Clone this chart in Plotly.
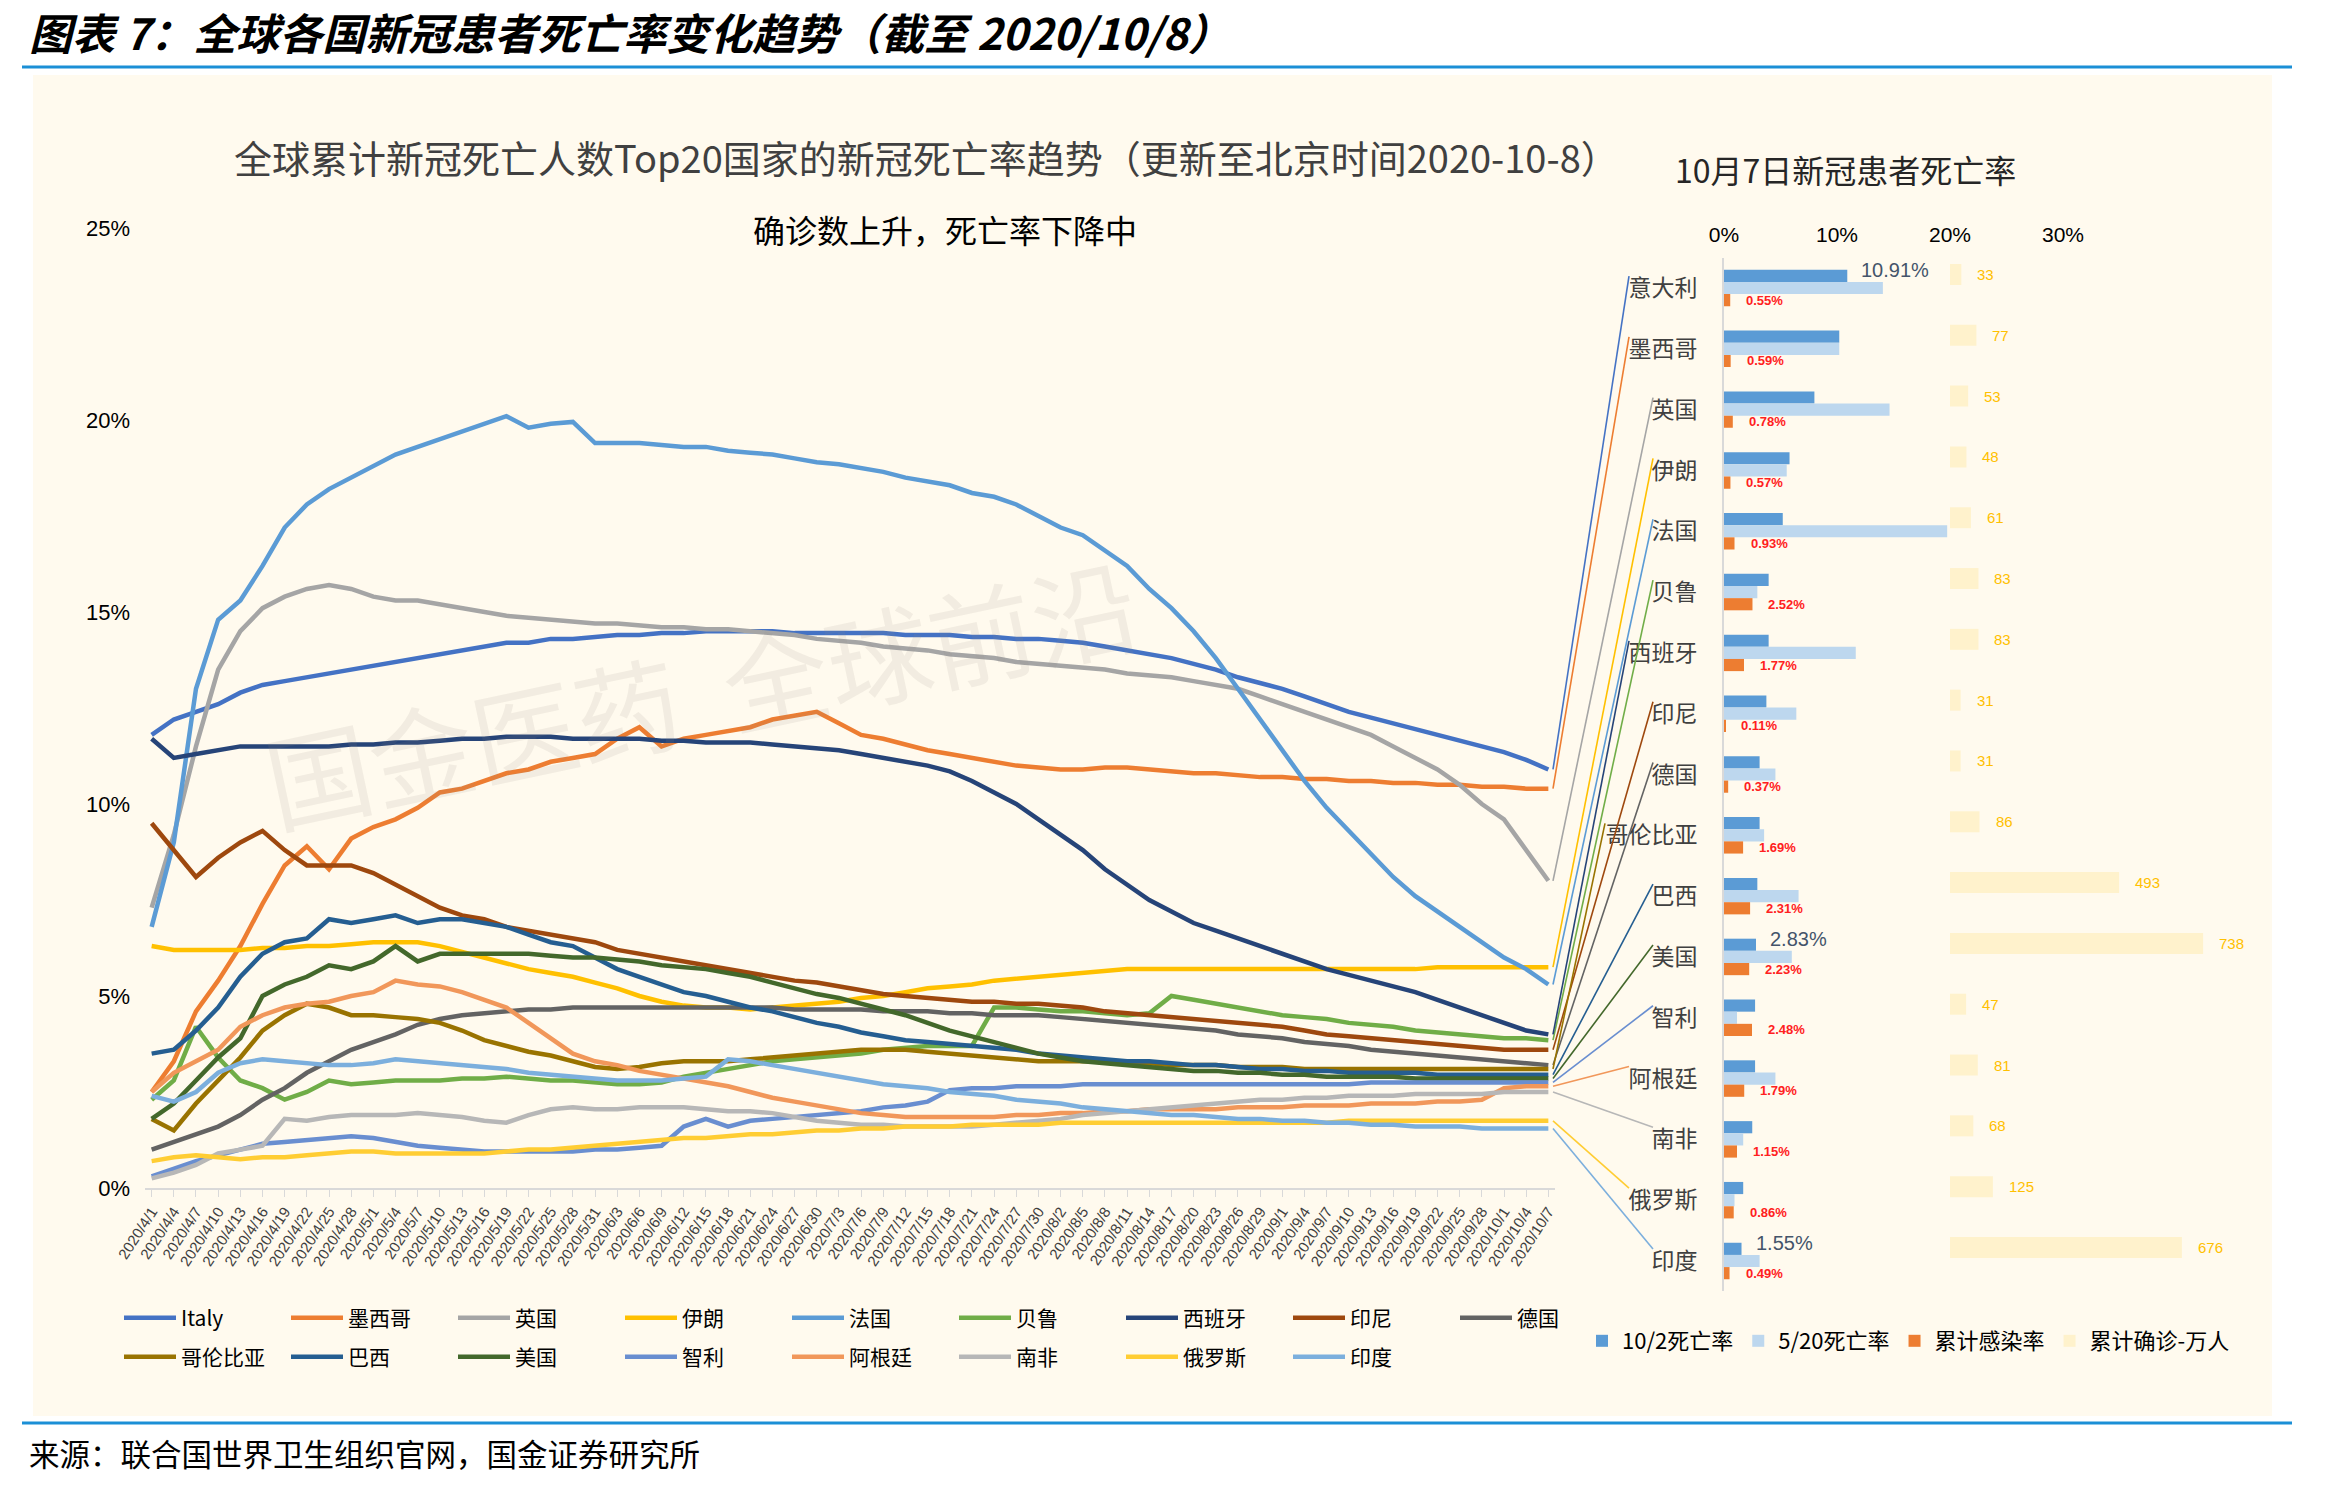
import plotly.graph_objects as go

W, H = 2349, 1485


def fx(px):
    return px / W


def fy(py):
    return 1 - py / H


# ---------------- data ----------------
dates = ["2020/4/1", "2020/4/4", "2020/4/7", "2020/4/10", "2020/4/13", "2020/4/16", "2020/4/19", "2020/4/22",
         "2020/4/25", "2020/4/28", "2020/5/1", "2020/5/4", "2020/5/7", "2020/5/10", "2020/5/13", "2020/5/16",
         "2020/5/19", "2020/5/22", "2020/5/25", "2020/5/28", "2020/5/31", "2020/6/3", "2020/6/6", "2020/6/9",
         "2020/6/12", "2020/6/15", "2020/6/18", "2020/6/21", "2020/6/24", "2020/6/27", "2020/6/30", "2020/7/3",
         "2020/7/6", "2020/7/9", "2020/7/12", "2020/7/15", "2020/7/18", "2020/7/21", "2020/7/24", "2020/7/27",
         "2020/7/30", "2020/8/2", "2020/8/5", "2020/8/8", "2020/8/11", "2020/8/14", "2020/8/17", "2020/8/20",
         "2020/8/23", "2020/8/26", "2020/8/29", "2020/9/1", "2020/9/4", "2020/9/7", "2020/9/10", "2020/9/13",
         "2020/9/16", "2020/9/19", "2020/9/22", "2020/9/25", "2020/9/28", "2020/10/1", "2020/10/4", "2020/10/7"]

italy = [11.8, 12.2, 12.4, 12.6, 12.9, 13.1, 13.2, 13.3, 13.4, 13.5,
         13.6, 13.7, 13.8, 13.9, 14.0, 14.1, 14.2, 14.2, 14.3, 14.3, 14.35,
         14.4, 14.4, 14.45, 14.45, 14.5, 14.5, 14.5, 14.5, 14.45, 14.45,
         14.45, 14.45, 14.45, 14.4, 14.4, 14.4, 14.35, 14.35, 14.3, 14.3,
         14.25, 14.2, 14.1, 14.0, 13.9, 13.8, 13.65, 13.5, 13.3, 13.15,
         13.0, 12.8, 12.6, 12.4, 12.25, 12.1, 11.95, 11.8, 11.65, 11.5,
         11.35, 11.15, 10.9]
mexico = [2.5, 3.3, 4.6, 5.4, 6.3, 7.4, 8.4, 8.9, 8.3, 9.1,
          9.4, 9.6, 9.9, 10.3, 10.4, 10.6, 10.8, 10.9, 11.1, 11.2, 11.3,
          11.7, 12.0, 11.5, 11.7, 11.8, 11.9, 12.0, 12.2, 12.3, 12.4,
          12.1, 11.8, 11.7, 11.55, 11.4, 11.3, 11.2, 11.1, 11.0, 10.95,
          10.9, 10.9, 10.95, 10.95, 10.9, 10.85, 10.8, 10.8, 10.75, 10.7,
          10.7, 10.65, 10.65, 10.6, 10.6, 10.55, 10.55, 10.5, 10.5, 10.45,
          10.45, 10.4, 10.4]
uk = [7.3, 9.2, 11.5, 13.5, 14.5, 15.1, 15.4, 15.6, 15.7, 15.6,
      15.4, 15.3, 15.3, 15.2, 15.1, 15.0, 14.9, 14.85, 14.8, 14.75, 14.7,
      14.7, 14.65, 14.6, 14.6, 14.55, 14.55, 14.5, 14.45, 14.4, 14.3,
      14.25, 14.2, 14.1, 14.05, 14.0, 13.9, 13.85, 13.8, 13.7, 13.65,
      13.6, 13.55, 13.5, 13.4, 13.35, 13.3, 13.2, 13.1, 13.0, 12.8,
      12.6, 12.4, 12.2, 12.0, 11.8, 11.5, 11.2, 10.9, 10.5, 10.0,
      9.6, 8.8, 8.0]
iran = [6.3, 6.2, 6.2, 6.2, 6.2, 6.25, 6.25, 6.3, 6.3, 6.35,
        6.4, 6.4, 6.4, 6.3, 6.15, 6.0, 5.85, 5.7, 5.6, 5.5, 5.35,
        5.2, 5.0, 4.85, 4.75, 4.7, 4.7, 4.65, 4.7, 4.75, 4.8,
        4.85, 4.95, 5.0, 5.1, 5.2, 5.25, 5.3, 5.4, 5.45, 5.5,
        5.55, 5.6, 5.65, 5.7, 5.7, 5.7, 5.7, 5.7, 5.7, 5.7,
        5.7, 5.7, 5.7, 5.7, 5.7, 5.7, 5.7, 5.75, 5.75, 5.75,
        5.75, 5.75, 5.75]
france = [6.8, 9.0, 13.0, 14.8, 15.3, 16.2, 17.2, 17.8, 18.2, 18.5,
          18.8, 19.1, 19.3, 19.5, 19.7, 19.9, 20.1, 19.8, 19.9, 19.95, 19.4,
          19.4, 19.4, 19.35, 19.3, 19.3, 19.2, 19.15, 19.1, 19.0, 18.9,
          18.85, 18.75, 18.65, 18.5, 18.4, 18.3, 18.1, 18.0, 17.8, 17.5,
          17.2, 17.0, 16.6, 16.2, 15.6, 15.1, 14.5, 13.8, 13.0, 12.2,
          11.4, 10.6, 9.9, 9.3, 8.7, 8.1, 7.6, 7.2, 6.8, 6.4,
          6.0, 5.7, 5.3]
peru = [2.3, 2.8, 4.2, 3.4, 2.8, 2.6, 2.3, 2.5, 2.8, 2.7,
        2.75, 2.8, 2.8, 2.8, 2.85, 2.85, 2.9, 2.85, 2.8, 2.8, 2.75,
        2.7, 2.7, 2.75, 2.9, 3.0, 3.1, 3.2, 3.3, 3.35, 3.4,
        3.45, 3.5, 3.6, 3.65, 3.7, 3.7, 3.7, 4.7, 4.7, 4.65,
        4.6, 4.6, 4.55, 4.5, 4.55, 5.0, 4.9, 4.8, 4.7, 4.6,
        4.5, 4.45, 4.4, 4.3, 4.25, 4.2, 4.1, 4.05, 4.0, 3.95,
        3.9, 3.9, 3.85]
spain = [11.7, 11.2, 11.3, 11.4, 11.5, 11.5, 11.5, 11.5, 11.5, 11.55,
         11.55, 11.6, 11.6, 11.65, 11.7, 11.7, 11.75, 11.75, 11.75, 11.7, 11.7,
         11.7, 11.7, 11.65, 11.65, 11.6, 11.6, 11.6, 11.55, 11.5, 11.45,
         11.4, 11.3, 11.2, 11.1, 11.0, 10.85, 10.6, 10.3, 10.0, 9.6,
         9.2, 8.8, 8.3, 7.9, 7.5, 7.2, 6.9, 6.7, 6.5, 6.3,
         6.1, 5.9, 5.7, 5.55, 5.4, 5.25, 5.1, 4.9, 4.7, 4.5,
         4.3, 4.1, 4.0]
indonesia = [9.5, 8.8, 8.1, 8.6, 9.0, 9.3, 8.8, 8.4, 8.4, 8.4,
             8.2, 7.9, 7.6, 7.3, 7.1, 7.0, 6.8, 6.7, 6.6, 6.5, 6.4,
             6.2, 6.1, 6.0, 5.9, 5.8, 5.7, 5.6, 5.5, 5.4, 5.35,
             5.25, 5.15, 5.05, 5.0, 4.95, 4.9, 4.85, 4.85, 4.8, 4.8,
             4.75, 4.7, 4.6, 4.55, 4.5, 4.45, 4.4, 4.35, 4.3, 4.25,
             4.2, 4.1, 4.0, 3.95, 3.9, 3.85, 3.8, 3.75, 3.7, 3.65,
             3.6, 3.6, 3.6]
germany = [1.0, 1.2, 1.4, 1.6, 1.9, 2.3, 2.6, 3.0, 3.3, 3.6,
           3.8, 4.0, 4.25, 4.4, 4.5, 4.55, 4.6, 4.65, 4.65, 4.7, 4.7,
           4.7, 4.7, 4.7, 4.7, 4.7, 4.7, 4.7, 4.7, 4.65, 4.65,
           4.65, 4.65, 4.6, 4.6, 4.6, 4.55, 4.55, 4.5, 4.5, 4.5,
           4.45, 4.4, 4.35, 4.3, 4.25, 4.2, 4.15, 4.1, 4.0, 3.95,
           3.9, 3.8, 3.75, 3.7, 3.6, 3.55, 3.5, 3.45, 3.4, 3.35,
           3.3, 3.25, 3.2]
colombia = [1.8, 1.5, 2.2, 2.8, 3.4, 4.1, 4.5, 4.8, 4.7, 4.5,
            4.5, 4.45, 4.4, 4.3, 4.1, 3.85, 3.7, 3.55, 3.45, 3.3, 3.15,
            3.1, 3.15, 3.25, 3.3, 3.3, 3.3, 3.35, 3.4, 3.45, 3.5,
            3.55, 3.6, 3.6, 3.6, 3.55, 3.5, 3.45, 3.4, 3.35, 3.3,
            3.3, 3.3, 3.3, 3.25, 3.25, 3.2, 3.2, 3.2, 3.15, 3.15,
            3.15, 3.1, 3.1, 3.1, 3.1, 3.1, 3.1, 3.1, 3.1, 3.1,
            3.1, 3.1, 3.1]
brazil = [3.5, 3.6, 4.1, 4.7, 5.5, 6.1, 6.4, 6.5, 7.0, 6.9,
          7.0, 7.1, 6.9, 7.0, 7.0, 6.9, 6.8, 6.6, 6.4, 6.3, 6.0,
          5.7, 5.5, 5.3, 5.1, 5.0, 4.85, 4.7, 4.6, 4.45, 4.3,
          4.2, 4.05, 3.95, 3.85, 3.8, 3.75, 3.7, 3.65, 3.6, 3.5,
          3.45, 3.4, 3.35, 3.3, 3.3, 3.25, 3.2, 3.2, 3.15, 3.1,
          3.1, 3.05, 3.05, 3.0, 3.0, 3.0, 3.0, 2.95, 2.95, 2.95,
          2.95, 2.95, 2.95]
usa = [1.8, 2.2, 2.8, 3.4, 3.9, 5.0, 5.3, 5.5, 5.8, 5.7,
       5.9, 6.3, 5.9, 6.1, 6.1, 6.1, 6.1, 6.1, 6.05, 6.0, 6.0,
       5.95, 5.9, 5.8, 5.75, 5.7, 5.6, 5.5, 5.35, 5.2, 5.05,
       4.95, 4.8, 4.65, 4.5, 4.3, 4.1, 3.95, 3.8, 3.65, 3.5,
       3.4, 3.3, 3.25, 3.2, 3.15, 3.1, 3.05, 3.05, 3.0, 3.0,
       2.95, 2.95, 2.9, 2.9, 2.9, 2.9, 2.85, 2.85, 2.85, 2.85,
       2.85, 2.85, 2.85]
chile = [0.3, 0.5, 0.7, 0.85, 1.0, 1.15, 1.2, 1.25, 1.3, 1.35,
         1.3, 1.2, 1.1, 1.05, 1.0, 0.95, 0.95, 0.95, 0.95, 0.95, 1.0,
         1.0, 1.05, 1.1, 1.6, 1.8, 1.6, 1.75, 1.8, 1.85, 1.9,
         1.95, 2.0, 2.1, 2.15, 2.25, 2.55, 2.6, 2.6, 2.65, 2.65,
         2.65, 2.7, 2.7, 2.7, 2.7, 2.7, 2.7, 2.7, 2.7, 2.7,
         2.7, 2.7, 2.7, 2.7, 2.75, 2.75, 2.75, 2.75, 2.75, 2.75,
         2.75, 2.75, 2.75]
argentina = [2.5, 3.0, 3.3, 3.6, 4.2, 4.5, 4.7, 4.8, 4.85, 5.0,
             5.1, 5.4, 5.3, 5.25, 5.1, 4.9, 4.7, 4.3, 3.9, 3.5, 3.3,
             3.2, 3.05, 2.95, 2.85, 2.75, 2.65, 2.5, 2.35, 2.25, 2.15,
             2.05, 1.95, 1.9, 1.85, 1.85, 1.85, 1.85, 1.85, 1.9, 1.9,
             1.95, 1.95, 2.0, 2.0, 2.05, 2.05, 2.05, 2.05, 2.1, 2.1,
             2.1, 2.15, 2.15, 2.15, 2.2, 2.2, 2.2, 2.25, 2.25, 2.3,
             2.6, 2.65, 2.65]
south_africa = [0.25, 0.4, 0.6, 0.9, 1.0, 1.1, 1.8, 1.75, 1.85, 1.9,
                1.9, 1.9, 1.95, 1.9, 1.85, 1.75, 1.7, 1.9, 2.05, 2.1, 2.05,
                2.05, 2.1, 2.1, 2.1, 2.05, 2.0, 2.0, 1.95, 1.85, 1.75,
                1.7, 1.65, 1.65, 1.6, 1.6, 1.6, 1.6, 1.65, 1.7, 1.75,
                1.8, 1.9, 1.95, 2.0, 2.05, 2.1, 2.15, 2.2, 2.25, 2.3,
                2.3, 2.35, 2.35, 2.4, 2.4, 2.4, 2.45, 2.45, 2.45, 2.45,
                2.5, 2.5, 2.5]
russia = [0.7, 0.8, 0.85, 0.8, 0.75, 0.8, 0.8, 0.85, 0.9, 0.95,
          0.95, 0.9, 0.9, 0.9, 0.9, 0.9, 0.95, 1.0, 1.0, 1.05, 1.1,
          1.15, 1.2, 1.25, 1.3, 1.3, 1.35, 1.4, 1.4, 1.45, 1.5,
          1.5, 1.55, 1.55, 1.6, 1.6, 1.6, 1.65, 1.65, 1.65, 1.65,
          1.7, 1.7, 1.7, 1.7, 1.7, 1.7, 1.7, 1.7, 1.7, 1.7,
          1.7, 1.7, 1.7, 1.75, 1.75, 1.75, 1.75, 1.75, 1.75, 1.75,
          1.75, 1.75, 1.75]
india = [2.4, 2.25, 2.5, 3.0, 3.25, 3.35, 3.3, 3.25, 3.2, 3.2,
         3.25, 3.35, 3.3, 3.25, 3.2, 3.15, 3.1, 3.0, 2.95, 2.9, 2.85,
         2.8, 2.8, 2.8, 2.85, 2.9, 3.35, 3.3, 3.2, 3.1, 3.0,
         2.9, 2.8, 2.7, 2.65, 2.6, 2.5, 2.45, 2.4, 2.3, 2.25,
         2.2, 2.1, 2.05, 2.0, 1.95, 1.9, 1.9, 1.85, 1.8, 1.8,
         1.75, 1.75, 1.7, 1.7, 1.65, 1.65, 1.6, 1.6, 1.6, 1.55,
         1.55, 1.55, 1.55]

series_names = ["Italy", "墨西哥", "英国", "伊朗", "法国", "贝鲁", "西班牙", "印尼", "德国",
                "哥伦比亚", "巴西", "美国", "智利", "阿根廷", "南非", "俄罗斯", "印度"]
series_values = [italy, mexico, uk, iran, france, peru, spain, indonesia, germany,
                 colombia, brazil, usa, chile, argentina, south_africa, russia, india]
series_colors = ["#4472C4", "#ED7D31", "#A5A5A5", "#FFC000", "#5B9BD5", "#70AD47", "#264478", "#9E480E",
                 "#636363", "#997300", "#255E91", "#43682B", "#698ED0", "#F1975A", "#B7B7B7", "#FFCD33",
                 "#7CAFDD"]

bar_countries = ["意大利", "墨西哥", "英国", "伊朗", "法国", "贝鲁", "西班牙", "印尼", "德国",
                 "哥伦比亚", "巴西", "美国", "智利", "阿根廷", "南非", "俄罗斯", "印度"]
rate_1002 = [10.91, 10.2, 8.0, 5.8, 5.2, 3.95, 3.95, 3.75, 3.15, 3.15, 2.95, 2.83, 2.75, 2.75, 2.5, 1.7, 1.55]
rate_1002_labels = ["10.91%", "", "", "", "", "", "", "", "", "", "", "2.83%", "", "", "", "", "1.55%"]
rate_0520 = [14.06, 10.2, 14.65, 5.55, 19.75, 2.95, 11.66, 6.4, 4.55, 3.55, 6.6, 6.0, 1.15, 4.55, 1.7, 0.93, 3.15]
infection_rate = [0.55, 0.59, 0.78, 0.57, 0.93, 2.52, 1.77, 0.11, 0.37, 1.69, 2.31, 2.23, 2.48, 1.79, 1.15, 0.86,
                  0.49]
cases_wan = [33, 77, 53, 48, 61, 83, 83, 31, 31, 86, 493, 738, 47, 81, 68, 125, 676]

rate_ticks = [0, 5, 10, 15, 20, 25]
rate_tick_text = ["0%", "5%", "10%", "15%", "20%", "25%"]
bar_ticks = [0, 10, 20, 30]
bar_tick_text = ["0%", "10%", "20%", "30%"]

# ---------------- geometry (pixels) ----------------
FONT = "Noto Sans CJK SC"
LX0, LX1 = 145, 1555          # left chart x-domain
LY_TOP, LY_BOT = 228, 1188    # left chart y-domain (25% .. 0%)
X_RANGE = [-0.3, 63.3]
Y_RANGE = [0, 25]
BX0 = 1724                    # bar chart 0%
BPX = 11.3                    # px per 1%
B_TOP, B_BOT = 257.6, 1291.4
YX0 = BX0 + 20 * BPX          # yellow bars start at the 20% mark
YX1 = 2272
Y_PX_PER = 0.343              # px per 万人

fig = go.Figure()

# ---------------- left line chart ----------------
for i, (nm, vals, col) in enumerate(zip(series_names, series_values, series_colors)):
    fig.add_trace(go.Scatter(
        x=dates, y=vals, mode="lines", name=nm,
        line=dict(color=col, width=4.5),
        xaxis="x", yaxis="y",
        legend="legend" if i < 9 else "legend2",
        hoverinfo="skip",
    ))

# ---------------- right bar chart ----------------
ypos = list(range(len(bar_countries)))
fig.add_trace(go.Bar(y=ypos, x=rate_1002, orientation="h", name="10/2死亡率",
                     marker=dict(color="#5B9BD5", line=dict(width=0)), xaxis="x2", yaxis="y2", legend="legend3"))
fig.add_trace(go.Bar(y=ypos, x=rate_0520, orientation="h", name="5/20死亡率",
                     marker=dict(color="#BDD7EE", line=dict(width=0)), xaxis="x2", yaxis="y2", legend="legend3"))
fig.add_trace(go.Bar(y=ypos, x=infection_rate, orientation="h", name="累计感染率",
                     marker=dict(color="#ED7D31", line=dict(width=0)), xaxis="x2", yaxis="y2", legend="legend3"))
fig.add_trace(go.Bar(y=ypos, x=cases_wan, orientation="h", name="累计确诊-万人",
                     marker=dict(color="#FFF2CC", line=dict(width=0)), xaxis="x3", yaxis="y2", legend="legend3",
                     width=0.345, offset=-0.395))

annotations = []
for i in ypos:
    annotations.append(dict(x=infection_rate[i], y=i + 0.2, xref="x2", yref="y2", text=f"{infection_rate[i]:.2f}%",
                            showarrow=False, xanchor="left", yanchor="middle", xshift=14,
                            font=dict(family="Arial", size=13, color="#FF2020", weight="bold")))
    annotations.append(dict(x=cases_wan[i], y=i - 0.2225, xref="x3", yref="y2", text=str(cases_wan[i]),
                            showarrow=False, xanchor="left", yanchor="middle", xshift=14,
                            font=dict(family="Arial", size=15, color="#FFC000")))
    if rate_1002_labels[i]:
        annotations.append(dict(x=rate_1002[i], y=i - 0.2, xref="x2", yref="y2", text=rate_1002_labels[i],
                                showarrow=False, xanchor="left", yanchor="middle", xshift=12, yshift=6,
                                font=dict(family="Arial", size=20, color="#44546A")))

# titles and texts
annotations += [
    dict(x=fx(27), y=fy(31), xref="paper", yref="paper", xanchor="left", yanchor="middle", showarrow=False,
         text="图表 7：全球各国新冠患者死亡率变化趋势（截至 2020/10/8）",
         font=dict(family=FONT, size=43, color="#000000", weight="bold", style="italic")),
    dict(x=fx(926), y=fy(156), xref="paper", yref="paper", xanchor="center", yanchor="middle", showarrow=False,
         text="全球累计新冠死亡人数Top20国家的新冠死亡率趋势（更新至北京时间2020-10-8）",
         font=dict(family=FONT, size=38, color="#404040")),
    dict(x=fx(945), y=fy(229), xref="paper", yref="paper", xanchor="center", yanchor="middle", showarrow=False,
         text="确诊数上升，死亡率下降中", font=dict(family=FONT, size=32, color="#000000")),
    dict(x=fx(1845), y=fy(169), xref="paper", yref="paper", xanchor="center", yanchor="middle", showarrow=False,
         text="10月7日新冠患者死亡率", font=dict(family=FONT, size=32, color="#262626")),
    dict(x=fx(27), y=fy(1453), xref="paper", yref="paper", xanchor="left", yanchor="middle", showarrow=False,
         text="来源：联合国世界卫生组织官网，国金证券研究所", font=dict(family=FONT, size=30.5, color="#000000")),
    dict(x=fx(700), y=fy(690), xref="paper", yref="paper", xanchor="center", yanchor="middle", showarrow=False,
         text="国金医药  全球前沿", textangle=-12,
         font=dict(family=FONT, size=105, color="rgba(150,140,130,0.12)")),
]

# ---------------- shapes ----------------
shapes = [
    dict(type="rect", xref="paper", yref="paper", x0=fx(33), x1=fx(2272), y0=fy(1416), y1=fy(75),
         fillcolor="#FFFAEE", line=dict(width=0), layer="below"),
    dict(type="line", xref="paper", yref="paper", x0=fx(22), x1=fx(2292), y0=fy(67), y1=fy(67),
         line=dict(color="#1B8FD6", width=3)),
    dict(type="line", xref="paper", yref="paper", x0=fx(22), x1=fx(2292), y0=fy(1423), y1=fy(1423),
         line=dict(color="#1B8FD6", width=3)),
]

# connector lines from end of each series to its label in the bar chart
cat_h = (B_BOT - B_TOP) / len(bar_countries)
for i, (vals, col) in enumerate(zip(series_values, series_colors)):
    y_start = LY_BOT - vals[-1] * (LY_BOT - LY_TOP) / Y_RANGE[1]
    label_cy = B_TOP + (i + 0.5) * cat_h
    x_end = 1703 - len(bar_countries[i]) * 24 - 2
    shapes.append(dict(type="line", xref="paper", yref="paper",
                       x0=fx(1553), y0=fy(y_start), x1=fx(x_end), y1=fy(label_cy - 12),
                       line=dict(color=col, width=1.6)))

line_legend = dict(orientation="h", xanchor="left", yanchor="middle", bgcolor="rgba(0,0,0,0)",
                   font=dict(family=FONT, size=21, color="#000000"), entrywidthmode="pixels",
                   traceorder="normal", itemwidth=52, borderwidth=0, entrywidth=100)

fig.update_layout(
    width=W, height=H,
    margin=dict(l=0, r=0, t=0, b=0, pad=0),
    paper_bgcolor="#FFFFFF", plot_bgcolor="rgba(0,0,0,0)",
    barmode="group", bargap=0.4, bargroupgap=0,
    showlegend=True,
    legend=dict(x=fx(119), y=fy(1318), **line_legend),
    legend2=dict(x=fx(119), y=fy(1357), **line_legend),
    legend3=dict(x=fx(1582), y=fy(1341), orientation="h", xanchor="left", yanchor="middle",
                 bgcolor="rgba(0,0,0,0)", font=dict(family=FONT, size=22, color="#000000"),
                 traceorder="normal", itemwidth=30, borderwidth=0),
    xaxis=dict(domain=[fx(LX0), fx(LX1)], type="category", range=X_RANGE, anchor="y",
               tickmode="array", tickvals=dates, ticktext=dates, tickangle=-57,
               tickfont=dict(family="Arial", size=15, color="#404040"),
               showline=True, linecolor="#D9D9D9", linewidth=2, ticks="outside", ticklen=7,
               tickcolor="#D9D9D9", showgrid=False, zeroline=False, automargin=False),
    yaxis=dict(domain=[fy(LY_BOT), fy(LY_TOP)], range=Y_RANGE, anchor="x",
               tickmode="array", tickvals=rate_ticks, ticktext=rate_tick_text,
               tickfont=dict(family="Arial", size=22, color="#000000"),
               showline=False, showgrid=False, zeroline=False, ticklabelstandoff=14, automargin=False),
    xaxis2=dict(domain=[fx(BX0), fx(BX0 + 30 * BPX)], range=[0, 30], anchor="y2", side="top",
                tickmode="array", tickvals=bar_ticks, ticktext=bar_tick_text,
                tickfont=dict(family="Arial", size=21, color="#000000"),
                showline=False, showgrid=False, zeroline=False, ticklabelstandoff=10, automargin=False),
    xaxis3=dict(domain=[fx(YX0), fx(YX1)], range=[0, (YX1 - YX0) / Y_PX_PER], anchor="y2",
                visible=False, showgrid=False, zeroline=False, automargin=False),
    yaxis2=dict(domain=[fy(B_BOT), fy(B_TOP)], range=[len(bar_countries) - 0.5, -0.5], anchor="x2",
                tickmode="array", tickvals=ypos, ticktext=bar_countries,
                tickfont=dict(family=FONT, size=23, color="#404040"),
                showline=True, linecolor="#D9D9D9", linewidth=2, showgrid=False, zeroline=False,
                ticks="", ticklabelstandoff=20, automargin=False),
    annotations=annotations,
    shapes=shapes,
)

fig.write_html("out.html")
